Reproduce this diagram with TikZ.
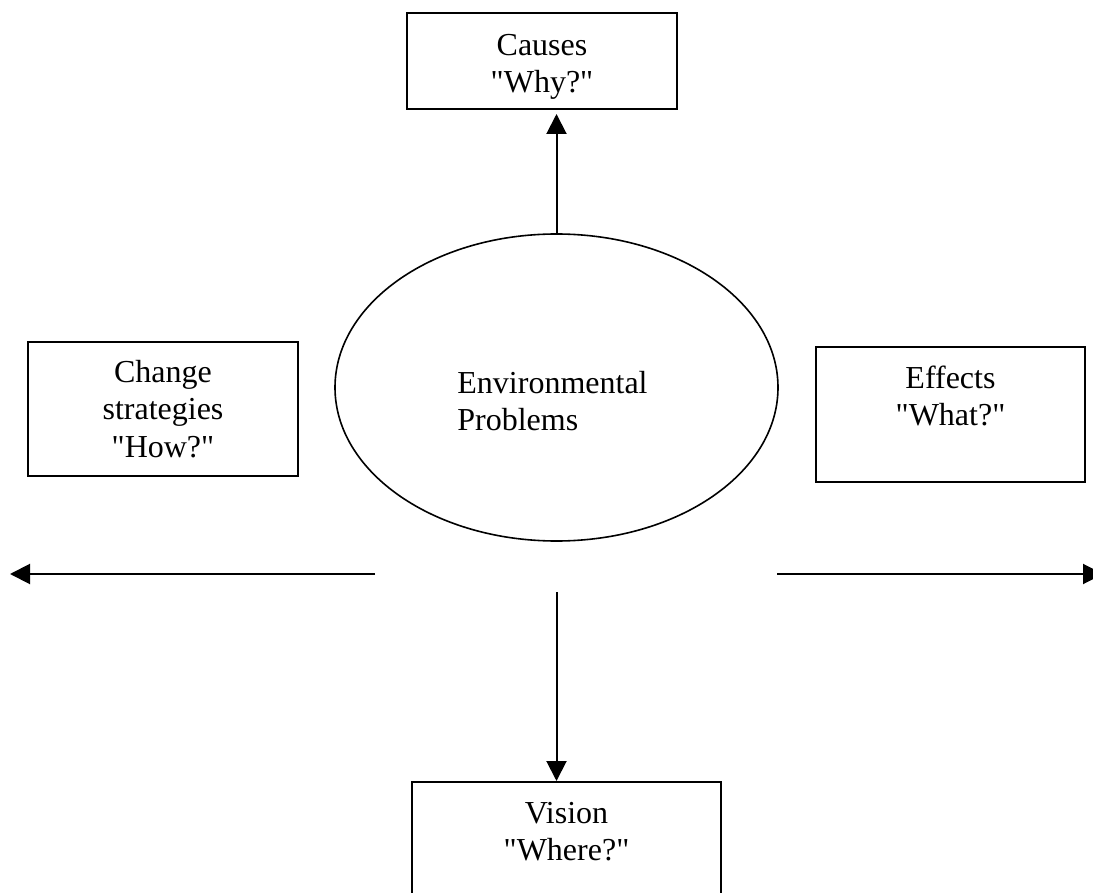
\documentclass[tikz,border=0pt]{standalone}
\usepackage{fontspec}
\setmainfont{Liberation Serif}[Ligatures=TeXOff]
\usetikzlibrary{shapes.geometric,arrows.meta}
\begin{document}
\begin{tikzpicture}[x=0.5pt,y=-0.5pt,
  every node/.style={font=\fontsize{16}{18.7}\selectfont, inner sep=0pt},
  boxnode/.style={draw, line width=1pt, rectangle},
  lbl/.style={anchor=north, align=center},
  arr/.style={line width=1pt, -{Triangle[length=10pt,width=10pt]}}]
\useasboundingbox (0,0) rectangle (1093,893);
\fill[white] (0,0) rectangle (1093,893);

% boxes
\node[boxnode, minimum width=135pt, minimum height=48pt] (cau) at (542,61) {};
\node[lbl] (cautxt) at (542,28.8) {\strut Causes\\"Why?"};

\node[boxnode, minimum width=135pt, minimum height=67pt] (chg) at (163,409) {};
\node[lbl] (chgtxt) at (163,355.8) {\strut Change\\strategies\\"How?"};

\node[boxnode, minimum width=134.5pt, minimum height=67.5pt] (eff) at (950.5,414.5) {};
\node[lbl] (efftxt) at (950.5,361.8) {\strut Effects\\"What?"};

\node[boxnode, minimum width=154.5pt, minimum height=67.5pt] (vis) at (566.5,849.5) {};
\node[lbl] (vistxt) at (566.5,796.8) {\strut Vision\\"Where?"};

% ellipse
\node[draw, ellipse, line width=0.8pt, minimum width=221.5pt, minimum height=153.5pt] (env) at (556.5,387.5) {};
\node[anchor=north west, align=left] (envtxt) at (457,366.8) {\strut Environmental\\Problems};

% connectors
\draw[arr] (env.north) -- ([yshift=-2pt]env.north |- cau.south);

\coordinate (lA) at (375,574);
\coordinate (lB) at (10,574);
\draw[arr] (lA) -- (lB);

\coordinate (rA) at (777,574);
\coordinate (rB) at (1103,574);
\draw[arr] (rA) -- (rB);

\coordinate (dA) at (556.5,592);
\draw[arr] (dA) -- (dA |- vis.north);
\end{tikzpicture}
\end{document}
